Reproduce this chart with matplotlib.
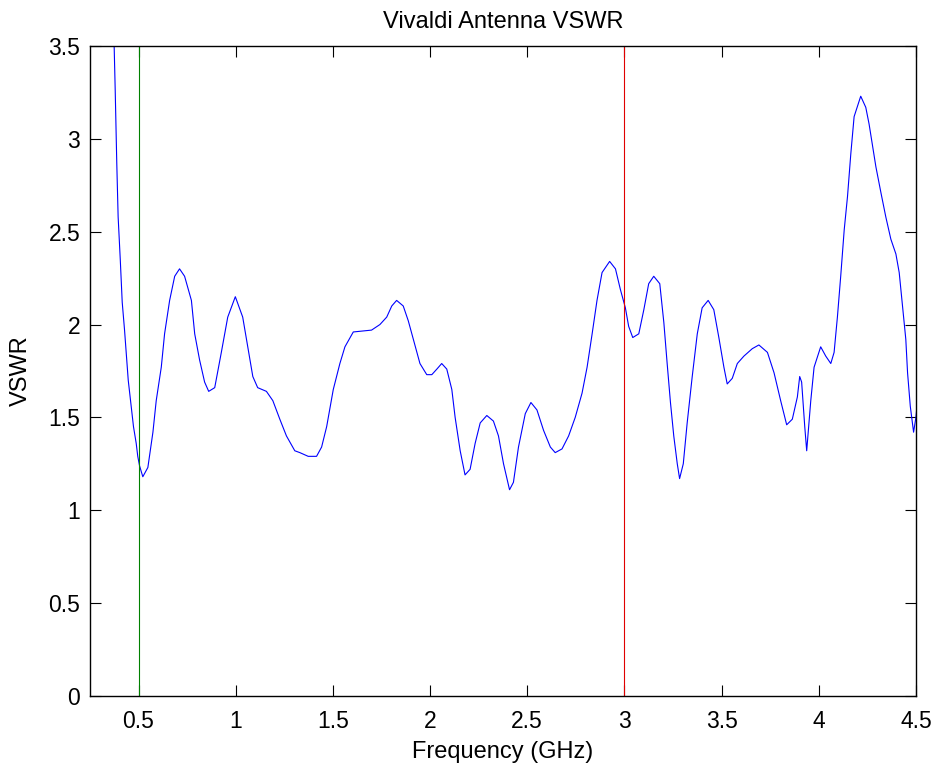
import numpy as np
import matplotlib.pyplot as plt

plt.rcParams['font.family'] = ['Liberation Sans', 'DejaVu Sans']

# --- данные ---
freq = [0.370, 0.380, 0.388, 0.395, 0.406, 0.416, 0.428, 0.438, 0.447, 0.459,
        0.474, 0.488, 0.496, 0.505, 0.522, 0.548, 0.574, 0.591, 0.617, 0.634,
        0.660, 0.686, 0.711, 0.737, 0.772, 0.789, 0.814, 0.840, 0.861, 0.892,
        0.926, 0.959, 0.998, 1.036, 1.062, 1.088, 1.113, 1.158, 1.191, 1.227,
        1.261, 1.304, 1.330, 1.373, 1.416, 1.442, 1.468, 1.502, 1.536, 1.562,
        1.605, 1.699, 1.742, 1.777, 1.803, 1.828, 1.862, 1.888, 1.914, 1.948,
        1.983, 2.009, 2.035, 2.060, 2.086, 2.112, 2.129, 2.155, 2.180, 2.206,
        2.232, 2.258, 2.292, 2.326, 2.352, 2.378, 2.409, 2.429, 2.455, 2.490,
        2.519, 2.550, 2.584, 2.619, 2.644, 2.679, 2.713, 2.747, 2.782, 2.808,
        2.834, 2.859, 2.885, 2.924, 2.954, 2.979, 3.005, 3.022, 3.043, 3.074,
        3.100, 3.125, 3.151, 3.182, 3.203, 3.220, 3.237, 3.254, 3.272, 3.284,
        3.303, 3.323, 3.349, 3.375, 3.400, 3.431, 3.460, 3.486, 3.512, 3.529,
        3.555, 3.581, 3.615, 3.658, 3.692, 3.736, 3.770, 3.804, 3.835, 3.864,
        3.890, 3.902, 3.912, 3.928, 3.938, 3.959, 3.976, 4.010, 4.036, 4.062,
        4.079, 4.096, 4.113, 4.131, 4.148, 4.165, 4.182, 4.216, 4.242, 4.259,
        4.277, 4.294, 4.320, 4.345, 4.371, 4.397, 4.414, 4.431, 4.448, 4.457,
        4.471, 4.488, 4.500, 4.508]
vswr = [3.70, 3.26, 2.87, 2.58, 2.35, 2.12, 1.97, 1.83, 1.70, 1.59,
        1.45, 1.36, 1.29, 1.24, 1.18, 1.23, 1.42, 1.59, 1.77, 1.95,
        2.13, 2.26, 2.30, 2.26, 2.13, 1.95, 1.81, 1.69, 1.64, 1.66,
        1.85, 2.04, 2.15, 2.04, 1.88, 1.72, 1.66, 1.64, 1.59, 1.49,
        1.40, 1.32, 1.31, 1.29, 1.29, 1.34, 1.45, 1.65, 1.79, 1.88,
        1.96, 1.97, 2.00, 2.04, 2.10, 2.13, 2.10, 2.02, 1.92, 1.79,
        1.73, 1.73, 1.76, 1.79, 1.76, 1.65, 1.50, 1.32, 1.19, 1.22,
        1.36, 1.47, 1.51, 1.48, 1.40, 1.25, 1.11, 1.15, 1.34, 1.52,
        1.58, 1.54, 1.43, 1.34, 1.31, 1.33, 1.40, 1.50, 1.63, 1.77,
        1.95, 2.13, 2.28, 2.34, 2.30, 2.19, 2.09, 1.99, 1.93, 1.95,
        2.08, 2.22, 2.26, 2.22, 2.01, 1.79, 1.58, 1.40, 1.25, 1.17,
        1.25, 1.47, 1.72, 1.95, 2.09, 2.13, 2.08, 1.93, 1.77, 1.68,
        1.71, 1.79, 1.83, 1.87, 1.89, 1.85, 1.74, 1.59, 1.46, 1.49,
        1.61, 1.72, 1.69, 1.45, 1.32, 1.59, 1.77, 1.88, 1.83, 1.79,
        1.85, 2.04, 2.26, 2.51, 2.69, 2.92, 3.12, 3.23, 3.17, 3.08,
        2.96, 2.85, 2.71, 2.58, 2.46, 2.38, 2.28, 2.10, 1.92, 1.74,
        1.56, 1.42, 1.50, 1.59]

f_low = 0.5
f_high = 3.0

xticks = [0.5, 1, 1.5, 2, 2.5, 3, 3.5, 4, 4.5]
xtick_labels = ['0.5', '1', '1.5', '2', '2.5', '3', '3.5', '4', '4.5']
yticks = [0, 0.5, 1, 1.5, 2, 2.5, 3, 3.5]
ytick_labels = ['0', '0.5', '1', '1.5', '2', '2.5', '3', '3.5']

# --- график ---
fig = plt.figure(figsize=(9.37, 7.68), dpi=100)
ax = fig.add_axes([0.096, 0.094, 0.8815, 0.846])

ax.plot(freq, vswr, color='#0000ff', linewidth=0.8)
ax.axvline(f_low, color='#008000', linewidth=0.8)
ax.axvline(f_high, color='#e00000', linewidth=0.8)

ax.set_xlim(0.25, 4.5)
ax.set_ylim(0, 3.5)
ax.set_xticks(xticks)
ax.set_xticklabels(xtick_labels)
ax.set_yticks(yticks)
ax.set_yticklabels(ytick_labels)

ax.tick_params(direction='in', length=8, width=0.8, top=True, right=True,
               labelsize=16.5, pad=7)
ax.tick_params(axis='x', pad=10)
for s in ax.spines.values():
    s.set_linewidth(1.0)

ax.set_title('Vivaldi Antenna VSWR', fontsize=17, pad=13)
ax.set_xlabel('Frequency (GHz)', fontsize=17, labelpad=6)
ax.set_ylabel('VSWR', fontsize=17, labelpad=12)

plt.savefig('out.png', dpi=100)
